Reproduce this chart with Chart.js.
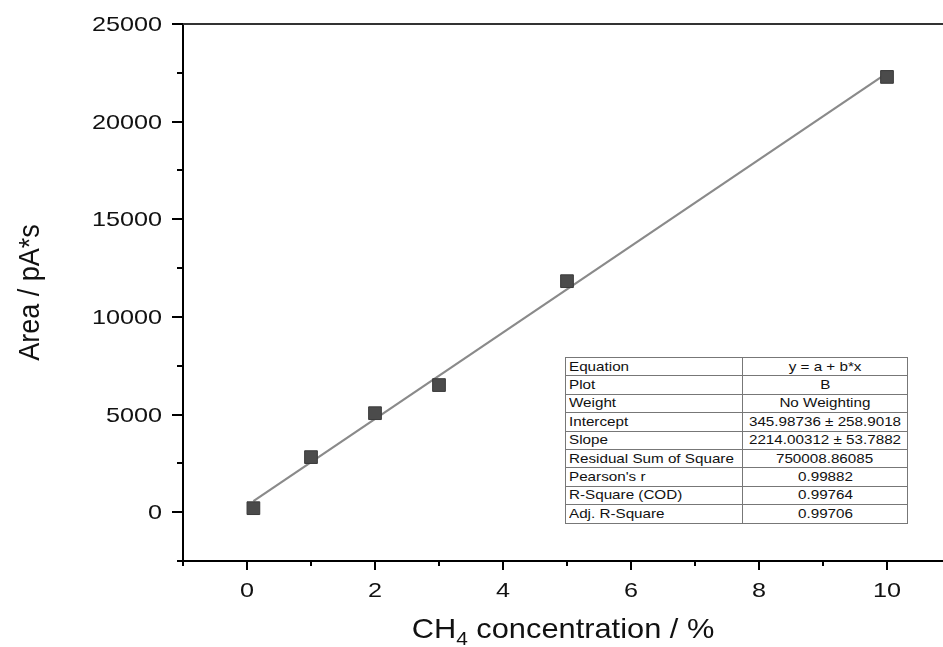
<!DOCTYPE html>
<html>
<head>
<meta charset="utf-8">
<script src="https://cdn.jsdelivr.net/npm/chart.js@4.4.0/dist/chart.umd.min.js"></script>
<style>
  html, body { margin: 0; padding: 0; background: #fff; overflow: hidden; }
  #wrap { position: relative; width: 943px; height: 647px; }
  #fitTable {
    position: absolute; left: 565px; top: 357px; width: 343px;
    border-collapse: collapse; border: 1.5px solid #444;
    font-family: "Liberation Sans", Arial, sans-serif; font-size: 13px; color: #111;
    background: #fff;
  }
  #fitTable td { border: 1px solid #777; padding: 0 3px; height: 17.4px; line-height: 16px; white-space: nowrap; }
  #fitTable td:first-child { width: 170px; }
  #fitTable td:last-child { text-align: center; }
  #fitTable span { display: inline-block; transform: scaleX(1.17); }
  #fitTable td:first-child span { transform-origin: left center; }
  #fitTable td:last-child span { transform-origin: center center; }
</style>
</head>
<body>
<div id="wrap">
  <canvas id="calib"></canvas>
  <table id="fitTable"></table>
</div>
<script>
// measured points
var concentration = [0.1, 1, 2, 3, 5, 10];
var area = [205, 2820, 5070, 6510, 11830, 22290];

// linear fit y = a + b*x
var fitIntercept = 345.98736;
var fitSlope = 2214.00312;
var fitRange = [0.1, 10];

var xTickValues = [-1, 0, 1, 2, 3, 4, 5, 6, 7, 8, 9, 10];
var xTickLabels = ['', '0', '', '2', '', '4', '', '6', '', '8', '', '10'];
var yTickValues = [-2500, 0, 2500, 5000, 7500, 10000, 12500, 15000, 17500, 20000, 22500, 25000];
var yTickLabels = ['', '0', '', '5000', '', '10000', '', '15000', '', '20000', '', '25000'];

var tableLabels = ['Equation', 'Plot', 'Weight', 'Intercept', 'Slope', 'Residual Sum of Square', "Pearson's r", 'R-Square (COD)', 'Adj. R-Square'];
var tableValues = ['y = a + b*x', 'B', 'No Weighting', '345.98736 \u00b1 258.9018', '2214.00312 \u00b1 53.7882', '750008.86085', '0.99882', '0.99764', '0.99706'];

var table = document.getElementById('fitTable');
tableLabels.forEach(function (lab, i) {
  var tr = document.createElement('tr');
  tr.innerHTML = '<td><span>' + lab + '</span></td><td><span>' + tableValues[i] + '</span></td>';
  table.appendChild(tr);
});

var FONT = '"Liberation Sans", Arial, sans-serif';
var STRETCH = 1.2; // source picture is a bit wide

function wideText(ctx, txt, x, y, align) {
  ctx.save();
  ctx.translate(x, y);
  ctx.scale(STRETCH, 1);
  ctx.textAlign = align;
  ctx.fillText(txt, 0, 0);
  ctx.restore();
}

// tick marks, tick labels, frame top line and axis titles
var axisExtras = {
  id: 'axisExtras',
  afterDraw: function (chart) {
    var ctx = chart.ctx, a = chart.chartArea;
    var x = chart.scales.x, y = chart.scales.y;
    ctx.save();
    ctx.strokeStyle = '#000';
    ctx.fillStyle = '#111';
    ctx.lineWidth = 2;
    ctx.font = '21px ' + FONT;
    ctx.textBaseline = 'middle';
    xTickValues.forEach(function (v, i) {
      var px = Math.round(x.getPixelForValue(v));
      var len = xTickLabels[i] ? 9 : 5;
      ctx.beginPath(); ctx.moveTo(px, a.bottom); ctx.lineTo(px, a.bottom + len); ctx.stroke();
      if (xTickLabels[i]) wideText(ctx, xTickLabels[i], px, a.bottom + 30, 'center');
    });
    yTickValues.forEach(function (v, i) {
      var py = Math.round(y.getPixelForValue(v));
      var len = yTickLabels[i] ? 11 : 6;
      ctx.beginPath(); ctx.moveTo(a.left, py); ctx.lineTo(a.left - len, py); ctx.stroke();
      if (yTickLabels[i]) wideText(ctx, yTickLabels[i], a.left - 21, py + 1, 'right');
    });
    // top frame
    ctx.strokeStyle = '#333';
    ctx.beginPath(); ctx.moveTo(a.left, a.top); ctx.lineTo(a.right, a.top); ctx.stroke();

    // x title with subscript
    ctx.textBaseline = 'alphabetic';
    var big = '28px ' + FONT, small = '19px ' + FONT;
    var parts = [['CH', big, 0], ['4', small, 7], [' concentration / %', big, 0]];
    var total = 0;
    parts.forEach(function (p) { ctx.font = p[1]; total += ctx.measureText(p[0]).width; });
    ctx.save();
    ctx.translate((a.left + a.right) / 2, 638);
    ctx.scale(1.1, 1);
    var cx = -total / 2;
    parts.forEach(function (p) {
      ctx.font = p[1];
      ctx.textAlign = 'left';
      ctx.fillText(p[0], cx, p[2]);
      cx += ctx.measureText(p[0]).width;
    });
    ctx.restore();

    // y title
    ctx.font = '27px ' + FONT;
    ctx.textAlign = 'center';
    ctx.translate(39, (a.top + a.bottom) / 2);
    ctx.rotate(-Math.PI / 2);
    ctx.scale(1, 1.1);
    ctx.fillText('Area / pA*s', 0, 0);
    ctx.restore();
  }
};

var ctx = document.getElementById('calib').getContext('2d');
var chart = new Chart(ctx, {
  type: 'scatter',
  data: {
    datasets: [{
      label: 'Fit',
      type: 'line',
      data: fitRange.map(function (c) { return { x: c, y: fitIntercept + fitSlope * c }; }),
      borderColor: '#8a8a8a',
      borderWidth: 2.2,
      pointRadius: 0,
      fill: false,
      order: 2
    }, {
      label: 'B',
      data: concentration.map(function (c, i) { return { x: c, y: area[i] }; }),
      pointStyle: 'rect',
      pointRadius: 9,
      backgroundColor: '#4b4b4b',
      borderColor: '#3a3a3a',
      borderWidth: 1,
      clip: false,
      order: 1
    }]
  },
  options: {
    responsive: true,
    maintainAspectRatio: false,
    animation: false,
    layout: { autoPadding: false, padding: { top: 24, left: 0, right: 0, bottom: 0 } },
    plugins: { legend: { display: false }, tooltip: { enabled: false } },
    scales: {
      x: {
        type: 'linear',
        min: -1,
        max: 10.875,
        afterBuildTicks: function (s) { s.ticks = xTickValues.map(function (v) { return { value: v }; }); },
        afterFit: function (s) { s.height = 86; },
        grid: { drawOnChartArea: false, drawTicks: false },
        border: { display: true, color: '#000', width: 2 },
        ticks: { display: false }
      },
      y: {
        type: 'linear',
        min: -2500,
        max: 25000,
        afterBuildTicks: function (s) { s.ticks = yTickValues.map(function (v) { return { value: v }; }); },
        afterFit: function (s) { s.width = 183; },
        grid: { drawOnChartArea: false, drawTicks: false },
        border: { display: true, color: '#000', width: 2 },
        ticks: { display: false }
      }
    }
  },
  plugins: [axisExtras]
});
</script>
</body>
</html>
